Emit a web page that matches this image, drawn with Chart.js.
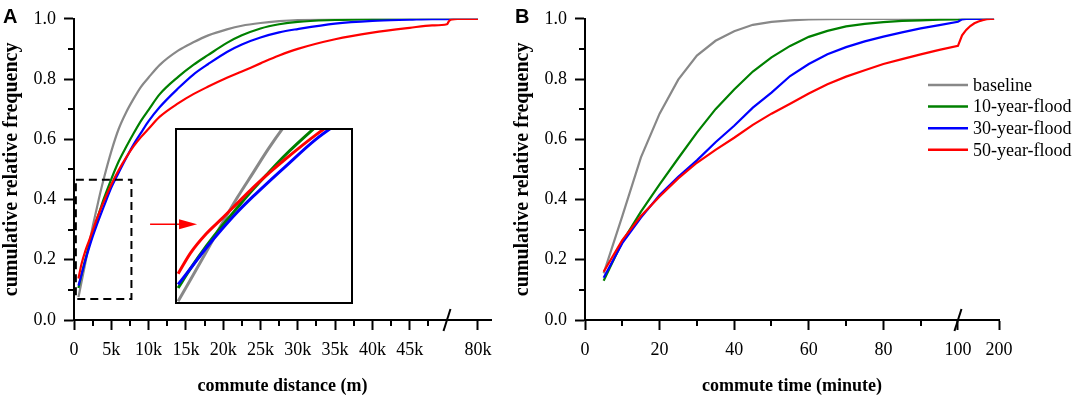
<!DOCTYPE html>
<html><head><meta charset="utf-8">
<script src="https://cdn.jsdelivr.net/npm/chart.js@4.4.1/dist/chart.umd.min.js"></script>
<style>
html,body{margin:0;padding:0;background:#fff;}
#wrap{position:relative;width:1072px;height:399px;overflow:hidden;background:#fff;}
canvas{position:absolute;}
#cA{left:0;top:0;}
#cB{left:511px;top:0;}
#cI{left:175px;top:128px;}
.lbl{position:absolute;font:bold 20px "Liberation Sans",Arial,sans-serif;color:#000;line-height:20px;}
</style></head><body>
<div id="wrap">
<canvas id="cA" width="511" height="399"></canvas>
<canvas id="cB" width="561" height="399"></canvas>
<canvas id="cI" width="178" height="176"></canvas>
<div class="lbl" style="left:3px;top:6px;">A</div>
<div class="lbl" style="left:515px;top:6px;">B</div>
</div>
<script>
// ---------- data ----------
const seriesNames = ['baseline','10-year-flood','30-year-flood','50-year-flood'];
const seriesColors = ['#888888','#008000','#0000ff','#ff0000'];

// Panel A: commute distance (m)
const distA = [600,1000,1500,2000,2500,3000,3500,4000,5000,6000,7000,8000,9000,10000,11500,14000,16000,18000,20500,22500,25000,27500,30000,35000,40000,45000,48000,50000,52000,55000,60000,70000,80000];
const baselineA = [0.076,0.125,0.187,0.25,0.31,0.365,0.42,0.47,0.56,0.635,0.69,0.735,0.775,0.805,0.847,0.895,0.922,0.945,0.965,0.977,0.986,0.992,0.996,0.999,1,1,1,1,1,1,1,1,1];
const flood10A  = [0.106,0.15,0.2,0.245,0.287,0.328,0.366,0.403,0.468,0.527,0.575,0.62,0.662,0.698,0.75,0.808,0.847,0.88,0.92,0.945,0.968,0.982,0.99,0.996,0.999,1,1,1,1,1,1,1,1];
const flood30A  = [0.114,0.15,0.196,0.238,0.277,0.312,0.345,0.377,0.44,0.49,0.538,0.583,0.622,0.66,0.707,0.77,0.815,0.85,0.89,0.915,0.938,0.955,0.966,0.984,0.993,0.997,0.999,0.999,1,1,1,1,1];
const flood50A  = [0.138,0.185,0.228,0.262,0.297,0.332,0.364,0.394,0.45,0.498,0.54,0.577,0.608,0.635,0.675,0.72,0.75,0.775,0.804,0.825,0.852,0.878,0.9,0.932,0.954,0.97,0.978,0.982,0.993,0.998,1,1,1];

// Panel B: commute time (minute)
const timeB = [5,10,15,20,25,30,35,40,45,50,55,60,65,70,75,80,85,90,95,100,110,120,130,140,150,160,170,180,188];
const baselineB = [0.155,0.345,0.54,0.685,0.798,0.878,0.927,0.959,0.98,0.99,0.995,0.998,0.999,1,1,1,1,1,1,1,1,1,1,1,1,1,1,1,1];
const flood10B  = [0.13,0.26,0.36,0.45,0.537,0.622,0.70,0.765,0.825,0.872,0.91,0.94,0.96,0.975,0.983,0.989,0.993,0.995,0.997,0.998,1,1,1,1,1,1,1,1,1];
const flood30B  = [0.14,0.255,0.34,0.415,0.475,0.53,0.59,0.645,0.705,0.755,0.81,0.85,0.882,0.906,0.925,0.941,0.955,0.968,0.979,0.99,0.998,1,1,1,1,1,1,1,1];
const flood50B  = [0.16,0.265,0.345,0.41,0.47,0.522,0.565,0.605,0.648,0.685,0.718,0.752,0.783,0.808,0.829,0.85,0.866,0.882,0.897,0.91,0.945,0.963,0.976,0.985,0.991,0.995,0.999,1,1];

// ticks
const xTickValuesA = [0,5000,10000,15000,20000,25000,30000,35000,40000,45000,80000];
const xTickLabelsA = ['0','5k','10k','15k','20k','25k','30k','35k','40k','45k','80k'];
const xMinorA = [2500,7500,12500,17500,22500,27500,32500,37500,42500,47500];
const xTickValuesB = [0,20,40,60,80,100,200];
const xTickLabelsB = ['0','20','40','60','80','100','200'];
const xMinorB = [10,30,50,70,90];
const yTickValues = [0,0.2,0.4,0.6,0.8,1.0];
const yTickLabels = ['0.0','0.2','0.4','0.6','0.8','1.0'];
const yMinor = [0.1,0.3,0.5,0.7,0.9];

// ---------- axis breaks ----------
const BREAK_A = 50000, SQUEEZE_A = 0.1385, END_A = 92600;
const BREAK_B = 100, SQUEEZE_B = 0.11, END_B = 200;
const tA = d => d <= BREAK_A ? d : BREAK_A + (d - BREAK_A) * SQUEEZE_A;
const tB = t => t <= BREAK_B ? t : BREAK_B + (t - BREAK_B) * SQUEEZE_B;

const SERIF = '"Liberation Serif","Times New Roman",Times,serif';
const seriesA = [baselineA, flood10A, flood30A, flood50A];
const seriesB = [baselineB, flood10B, flood30B, flood50B];

function makeDatasets(xs, ys, tf, width, smooth) {
  return ys.map((vals, i) => ({
    label: seriesNames[i],
    data: xs.map((x, j) => ({x: tf(x), y: vals[j]})),
    borderColor: seriesColors[i],
    backgroundColor: seriesColors[i],
    borderWidth: width,
    pointRadius: 0,
    fill: false,
    tension: 0,
    cubicInterpolationMode: smooth ? 'monotone' : 'default',
    order: 4 - i
  }));
}

function yAxis(width) {
  return {
    min: 0, max: 1,
    afterBuildTicks: s => { s.ticks = yTickValues.map(v => ({value: v})); },
    afterFit: s => { s.width = width; },
    ticks: { callback: (v, i) => yTickLabels[i], color: '#000', font: {family: SERIF, size: 18}, padding: 8 },
    grid: { drawOnChartArea: false, drawTicks: true, tickLength: 10, tickWidth: 2, tickColor: '#000' },
    border: { display: true, color: '#000', width: 2 },
    title: { display: true, text: 'cumulative relative frequency', color: '#000',
             font: {family: SERIF, size: 20, weight: 'bold'}, padding: {top: 0, bottom: 0} }
  };
}

function xAxis(maxV, tickVals, tickLabels, tf, title) {
  return {
    type: 'linear', min: 0, max: maxV,
    afterBuildTicks: s => { s.ticks = tickVals.map(v => ({value: tf(v)})); },
    afterFit: s => { s.height = 79; },
    ticks: { callback: (v, i) => tickLabels[i], color: '#000', font: {family: SERIF, size: 18},
             padding: 9, autoSkip: false, maxRotation: 0 },
    grid: { drawOnChartArea: false, drawTicks: true, tickLength: 10, tickWidth: 2, tickColor: '#000' },
    border: { display: true, color: '#000', width: 2 },
    title: { display: true, text: title, color: '#000',
             font: {family: SERIF, size: 18, weight: 'bold'}, padding: {top: 0, bottom: 2} }
  };
}

function drawMinorAndBreak(chart, minors, tf, breakVal) {
  const {ctx, scales: {x, y}} = chart;
  ctx.save();
  ctx.strokeStyle = '#000'; ctx.lineWidth = 2;
  const by = y.bottom;
  minors.forEach(v => {
    const px = Math.round(x.getPixelForValue(tf(v)));
    ctx.beginPath(); ctx.moveTo(px, by); ctx.lineTo(px, by + 6); ctx.stroke();
  });
  const lx = x.left;
  yMinor.forEach(v => {
    const py = Math.round(y.getPixelForValue(v));
    ctx.beginPath(); ctx.moveTo(lx, py); ctx.lineTo(lx - 6, py); ctx.stroke();
  });
  const bx = x.getPixelForValue(breakVal);
  ctx.beginPath(); ctx.moveTo(bx - 3.5, by + 11); ctx.lineTo(bx + 3.5, by - 11); ctx.stroke();
  ctx.restore();
}

const decoA = {
  id: 'decoA',
  afterDraw(chart) {
    drawMinorAndBreak(chart, xMinorA, tA, tA(BREAK_A));
    const {ctx, scales: {x, y}} = chart;
    ctx.save();
    ctx.strokeStyle = '#000'; ctx.lineWidth = 2; ctx.setLineDash([8, 5]);
    const x0 = x.getPixelForValue(250), x1 = x.getPixelForValue(7700);
    const y0 = y.getPixelForValue(0.466), y1 = y.getPixelForValue(0.07);
    ctx.strokeRect(x0, y0, x1 - x0, y1 - y0);
    ctx.setLineDash([]);
    const ay = y.getPixelForValue(0.318);
    const ax0 = x.getPixelForValue(10200), ax1 = x.getPixelForValue(16500);
    ctx.strokeStyle = '#ff0000'; ctx.fillStyle = '#ff0000'; ctx.lineWidth = 1.5;
    ctx.beginPath(); ctx.moveTo(ax0, ay); ctx.lineTo(ax1 - 12, ay); ctx.stroke();
    ctx.beginPath(); ctx.moveTo(ax1, ay); ctx.lineTo(ax1 - 18, ay - 5); ctx.lineTo(ax1 - 18, ay + 5); ctx.closePath(); ctx.fill();
    ctx.restore();
  }
};

const decoB = {
  id: 'decoB',
  afterDraw(chart) {
    drawMinorAndBreak(chart, xMinorB, tB, tB(BREAK_B));
    const {ctx, chartArea: a} = chart;
    ctx.save();
    ctx.font = '18px ' + SERIF; ctx.textBaseline = 'middle'; ctx.fillStyle = '#000';
    const lx = a.right - 71;
    chart.data.datasets.forEach((ds, i) => {
      const ly = 85 + i * 21.6;
      ctx.strokeStyle = ds.borderColor; ctx.lineWidth = 2.5;
      ctx.beginPath(); ctx.moveTo(lx, ly); ctx.lineTo(lx + 40, ly); ctx.stroke();
      ctx.fillText(ds.label, lx + 45, ly + 1);
    });
    ctx.restore();
  }
};

const insetBorder = {
  id: 'insetBorder',
  afterDraw(chart) {
    const {ctx, chartArea: a} = chart;
    ctx.save(); ctx.strokeStyle = '#000'; ctx.lineWidth = 2;
    ctx.strokeRect(a.left + 1, a.top + 1, a.right - a.left - 2, a.bottom - a.top - 2);
    ctx.restore();
  }
};

const common = { responsive: false, animation: false, events: [],
  plugins: { legend: {display: false}, tooltip: {enabled: false} } };

new Chart(document.getElementById('cA'), {
  type: 'line',
  data: { datasets: makeDatasets(distA, seriesA, tA, 2.2, true) },
  options: Object.assign({}, common, {
    layout: { padding: {left: 0, top: 9, right: 20, bottom: 0} },
    scales: { x: xAxis(tA(END_A), xTickValuesA, xTickLabelsA, tA, 'commute distance (m)'), y: yAxis(74) }
  }),
  plugins: [decoA]
});

new Chart(document.getElementById('cB'), {
  type: 'line',
  data: { datasets: makeDatasets(timeB, seriesB, tB, 2.2, false) },
  options: Object.assign({}, common, {
    layout: { padding: {left: 0, top: 9, right: 73, bottom: 0} },
    scales: { x: xAxis(tB(END_B), xTickValuesB, xTickLabelsB, tB, 'commute time (minute)'), y: yAxis(74) }
  }),
  plugins: [decoB]
});

new Chart(document.getElementById('cI'), {
  type: 'line',
  data: { datasets: makeDatasets(distA, seriesA, d => d, 3, true) },
  options: Object.assign({}, common, {
    layout: { padding: 0 },
    scales: { x: {type: 'linear', display: false, min: 500, max: 6200},
              y: {display: false, min: 0.07, max: 0.466} }
  }),
  plugins: [insetBorder]
});
</script>
</body></html>
